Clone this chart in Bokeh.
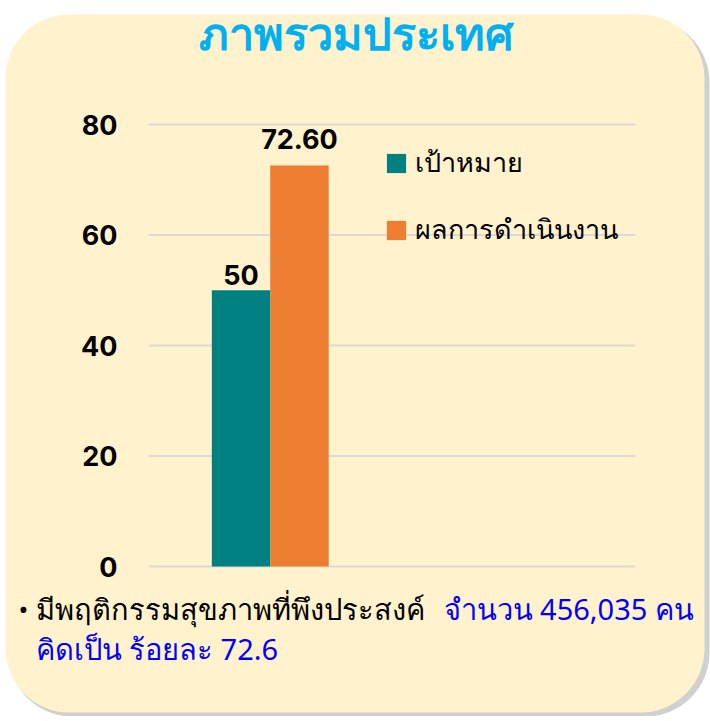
from bokeh.plotting import figure
from bokeh.models import (ColumnDataSource, Range1d, BoxAnnotation, Label,
                          Legend, LegendItem)
from bokeh.core.properties import value
from bokeh.embed import file_html
from bokeh.resources import INLINE

# ---------------- data ----------------
series_names = ["เป้าหมาย", "ผลการดำเนินงาน"]
series_values = [50, 72.60]
value_labels = ["50", "72.60"]
series_colors = ["#008080", "#ED7D31"]
y_ticks = [0, 20, 40, 60, 80]
y_tick_labels = ["0", "20", "40", "60", "80"]
category_slots = 2          # chart has room for two category groups; only first is used
title_text = "ภาพรวมประเทศ"
note_bullet = "•"
note_black = "มีพฤติกรรมสุขภาพที่พึงประสงค์"
note_blue_1 = "จำนวน 456,035 คน"
note_blue_2 = "คิดเป็น ร้อยละ 72.6"

# ---------------- layout / styles ----------------
W, H = 710, 716
PLOT_L, PLOT_R, PLOT_T, PLOT_B = 148, 635, 124, 566   # pixel box of the value area
Y_MAX = 80
THAI = "Noto Sans"
NUM = "Inter"
BG = "#FFF2CC"

px_y = (PLOT_B - PLOT_T) / Y_MAX
px_x = (PLOT_R - PLOT_L) / category_slots
x_range = Range1d(-PLOT_L / px_x, category_slots + (W - PLOT_R) / px_x)
y_range = Range1d(-(H - PLOT_B) / px_y, Y_MAX + PLOT_T / px_y)

p = figure(width=W, height=H, x_range=x_range, y_range=y_range,
           output_backend="svg", toolbar_location=None, min_border=0)
p.border_fill_color = "white"
p.background_fill_color = "white"
p.outline_line_color = None
p.xaxis.visible = False
p.yaxis.visible = False
p.grid.visible = False

# rounded card background
shadow = BoxAnnotation(left=8, right=709, top=18, bottom=716, left_units="canvas",
                       right_units="canvas", top_units="canvas", bottom_units="canvas",
                       fill_color="#C4C4C4", fill_alpha=0.8, line_color=None,
                       border_radius=64, level="image")
card = BoxAnnotation(left=5, right=704, top=14, bottom=712, left_units="canvas",
                     right_units="canvas", top_units="canvas", bottom_units="canvas",
                     fill_color=BG, fill_alpha=1.0, line_color=None,
                     border_radius=64, level="image")
p.add_layout(shadow)
p.add_layout(card)

# horizontal gridlines + tick labels
grid_src = ColumnDataSource(dict(y=y_ticks, lab=y_tick_labels,
                                 x0=[0] * len(y_ticks), x1=[category_slots] * len(y_ticks)))
p.segment(x0="x0", x1="x1", y0="y", y1="y", source=grid_src,
          line_color="#D9D9D9", line_width=2, level="underlay")
p.text(x="x0", y="y", text="lab", source=grid_src, x_offset=-31,
       text_align="right", text_baseline="middle", text_font=value(NUM),
       text_font_size="27px", text_font_style="bold", text_color="black")

# bars
group_center = 0.5
bar_w = 0.24
items = []
label_gaps = [5, 16]
for i, (name, val, lab, col) in enumerate(zip(series_names, series_values, value_labels, series_colors)):
    xc = group_center + (i - (len(series_values) - 1) / 2) * bar_w
    src = ColumnDataSource(dict(x=[xc], top=[val]))
    r = p.vbar(x="x", top="top", bottom=0, width=bar_w, source=src,
               fill_color=col, line_color=None)
    items.append(LegendItem(label=name, renderers=[r]))
    p.add_layout(Label(x=xc, y=val, text=lab, text_align="center", text_baseline="bottom",
                       y_offset=label_gaps[i], text_font=NUM, text_font_size="27px",
                       text_font_style="bold", text_color="black"))

legend = Legend(items=items, location=(384, H - 251), orientation="vertical",
                glyph_width=24, glyph_height=24, label_height=40, spacing=24,
                label_standoff=7, padding=0, margin=0,
                label_text_font=THAI, label_text_font_size="27px", label_text_color="black",
                background_fill_alpha=0, border_line_color=None)
p.add_layout(legend)

# title & notes (screen units, y from bottom)
p.add_layout(Label(x=356, y=H - 32, x_units="screen", y_units="screen", text=title_text,
                   text_align="center", text_baseline="middle", text_font=THAI,
                   text_font_size="45px", text_font_style="bold", text_color="#00B0F0"))
p.add_layout(Label(x=18, y=H - 608, x_units="screen", y_units="screen", text=note_bullet,
                   text_align="left", text_baseline="middle", text_font=THAI,
                   text_font_size="26px", text_color="black"))
p.add_layout(Label(x=35, y=H - 608, x_units="screen", y_units="screen", text=note_black,
                   text_align="left", text_baseline="middle", text_font=THAI,
                   text_font_size="29px", text_color="black"))
p.add_layout(Label(x=443, y=H - 608, x_units="screen", y_units="screen", text=note_blue_1,
                   text_align="left", text_baseline="middle", text_font=THAI,
                   text_font_size="29px", text_color="#0000FF"))
p.add_layout(Label(x=35, y=H - 648, x_units="screen", y_units="screen", text=note_blue_2,
                   text_align="left", text_baseline="middle", text_font=THAI,
                   text_font_size="29px", text_color="#0000FF"))

open("out.html", "w").write(file_html(p, INLINE))
